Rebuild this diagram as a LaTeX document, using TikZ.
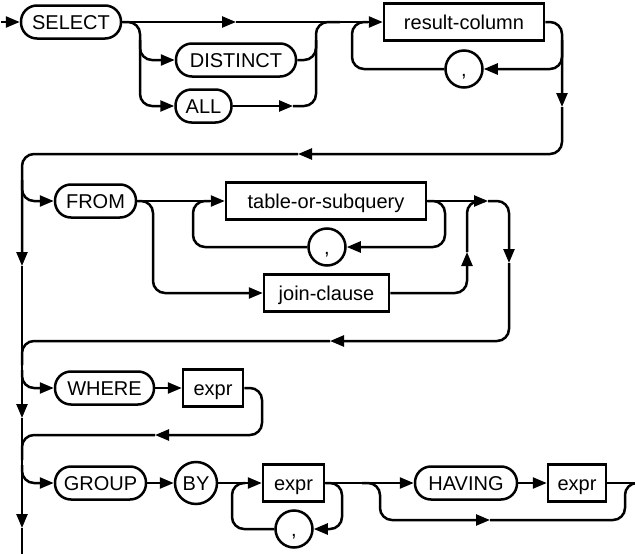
\documentclass[tikz,border=0pt]{standalone}
\usepackage{fontspec}
\setmainfont{Liberation Sans}
\usetikzlibrary{arrows.meta}
\begin{document}
\begin{tikzpicture}[x=1pt,y=-1pt,
  line width=2.5pt,
  >={Triangle[length=14pt,width=11pt]},
  rc/.style={rounded corners=12pt},
  lbl/.style={font=\fontsize{20}{22}\selectfont, text height=15pt, text depth=0pt},
  kw/.style={lbl, draw, rectangle, rounded corners=16pt, minimum height=33pt, inner sep=0pt},
  nt/.style={lbl, draw, rectangle, minimum height=37pt, inner sep=0pt},
  ci/.style={lbl, draw, circle, minimum size=37pt, inner sep=0pt}]
\useasboundingbox (0,0) rectangle (635,554);

% nodes
\node[kw, minimum width=100pt] (sel) at (71,22) {SELECT};
\node[kw, minimum width=120pt] (dist) at (236,60) {DISTINCT};
\node[kw, minimum width=56pt] (all) at (203.5,106) {ALL};
\node[nt, minimum width=160pt] (rcol) at (464,22) {result-column};
\node[ci] (c1) at (464,69) {,};
\node[kw, minimum width=81pt] (from) at (95.5,201) {FROM};
\node[nt, minimum width=200pt] (tos) at (326,201) {table-or-subquery};
\node[ci] (c2) at (327,247) {,};
\node[nt, minimum width=125pt] (join) at (326.5,293) {join-clause};
\node[kw, minimum width=99pt] (where) at (104.5,388) {WHERE};
\node[nt, minimum width=60pt] (e1) at (213,388) {expr};
\node[kw, minimum width=91pt] (group) at (100.5,483) {GROUP};
\node[ci, minimum size=42pt] (by) at (196,483) {BY};
\node[nt, minimum width=61pt] (e2) at (293.5,483) {expr};
\node[ci] (c3) at (294,529) {,};
\node[kw, minimum width=102pt] (having) at (466,483) {HAVING};
\node[nt, minimum width=58pt] (e3) at (577,483) {expr};

% coordinates
\coordinate (s0) at (1,22);
\coordinate (a1) at (236,22);
\coordinate (a2) at (293,106);
\coordinate (a3) at (562,107);
\coordinate (a4) at (298,154);
\coordinate (a5) at (22,266);
\coordinate (a6) at (488,201);
\coordinate (a7) at (467,252);
\coordinate (a8) at (509,263);
\coordinate (a9) at (330,341);
\coordinate (a10) at (22,418);
\coordinate (a11) at (155,435);
\coordinate (a12) at (22,528);
\coordinate (a13) at (490,520);
\coordinate (end1) at (635,483);
\coordinate (end2) at (22,554);

% row 1
\draw[->] (s0) -- (sel.west);
\draw[->] (sel.east) -- (a1);
\draw[->] (a1) -- (rcol.west);
\draw[rc,->] (sel.east) -| (140,106) -- (all.west);
\draw[rc,->] (140,40) |- (dist.west);
\draw[->] (all.east) -- (a2);
\draw[rc] (a2) -| (316,22) -- (340,22);
\draw[rc] (dist.east) -| (316,40);
\draw[rc] (c1.west) -| (352,22) -- (368,22);
\draw[rc,->] (rcol.east) -| (a3);
\draw[rc,->] (562,40) |- (c1.east);
\draw[rc,->] (a3) |- (a4);
\draw[rc,->] (a4) -| (a5);

% FROM
\draw[rc,->] (22,180) |- (from.west);
\draw[->] (from.east) -- (tos.west);
\draw[rc,->] (from.east) -| (153,293) -- (join.west);
\draw[rc] (c2.west) -| (193,201) -- (210,201);
\draw[rc,->] (tos.east) -| (445,247) -- (c2.east);
\draw[->] (tos.east) -- (a6);
\draw[rc,->] (join.east) -| (a7);
\draw[rc] (a7) |- (485,201);
\draw[rc,->] (a6) -| (a8);
\draw[rc,->] (a8) |- (a9);
\draw[rc] (a9) -| (22,365);

% WHERE
\draw[->] (a5) -- (a10);
\draw[rc,->] (22,370) |- (where.west);
\draw[->] (where.east) -- (e1.west);
\draw[rc,->] (e1.east) -| (262,435) -- (a11);
\draw[rc] (a11) -| (22,460);

% GROUP BY
\draw[->] (a10) -- (a12);
\draw (a12) -- (end2);
\draw[rc,->] (22,465) |- (group.west);
\draw[->] (group.east) -- (by.west);
\draw[->] (by.east) -- (e2.west);
\draw[rc] (c3.west) -| (232,483) -- (245,483);
\draw[rc,->] (e2.east) -| (342,529) -- (c3.east);
\draw[->] (e2.east) -- (having.west);
\draw[->] (having.east) -- (e3.west);
\draw (e3.east) -- (end1);
\draw[rc,->] (362,483) -| (380,520) -- (a13);
\draw[rc] (a13) -| (625,483) -- (end1);
\end{tikzpicture}
\end{document}
